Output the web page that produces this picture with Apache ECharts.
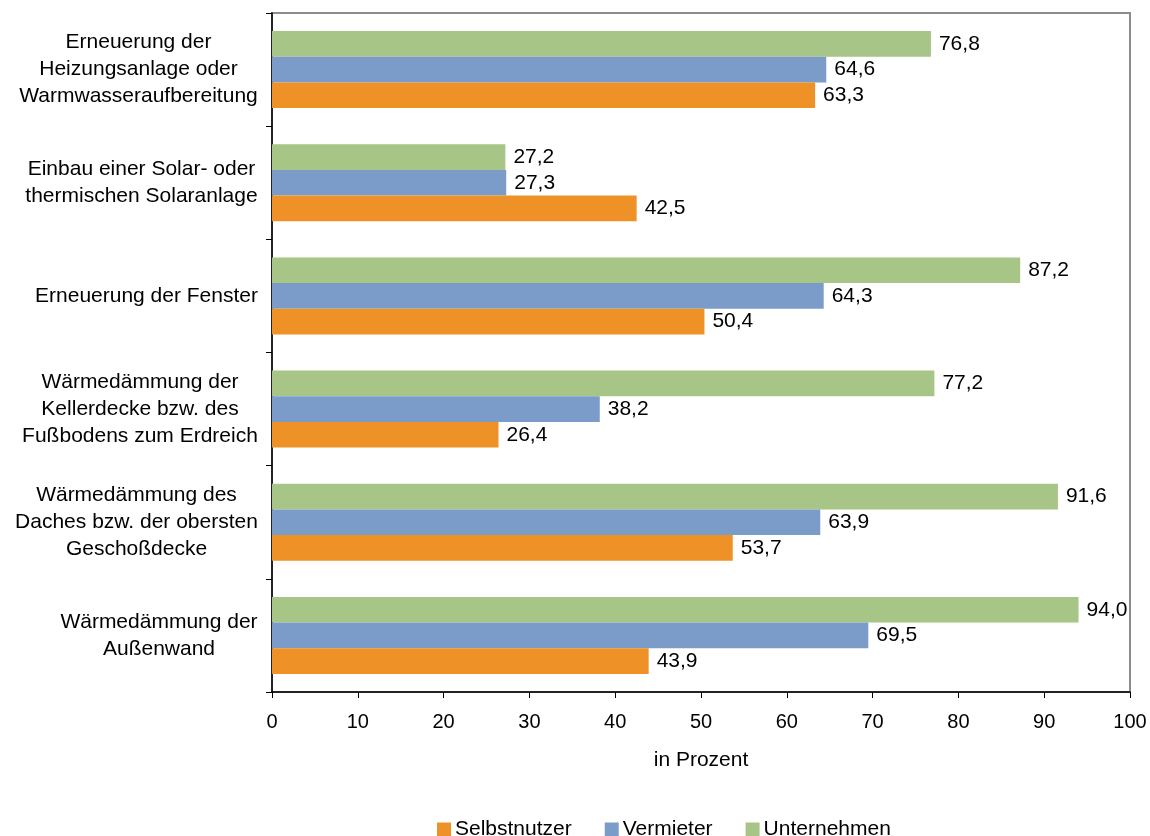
<!DOCTYPE html>
<html>
<head>
<meta charset="utf-8">
<script src="https://cdn.jsdelivr.net/npm/echarts@6/dist/echarts.min.js"></script>
<style>
  html, body { margin: 0; padding: 0; background: #fff; }
  #chart { width: 1150px; height: 836px; }
</style>
</head>
<body>
<div id="chart"></div>
<script>
// Kategorien von oben nach unten
var categories = [
  'Erneuerung der\nHeizungsanlage oder\nWarmwasseraufbereitung',
  'Einbau einer Solar- oder\nthermischen Solaranlage',
  'Erneuerung der Fenster',
  'Wärmedämmung der\nKellerdecke bzw. des\nFußbodens zum Erdreich',
  'Wärmedämmung des\nDaches bzw. der obersten\nGeschoßdecke',
  'Wärmedämmung der\nAußenwand'
];
var seriesNames = ['Selbstnutzer', 'Vermieter', 'Unternehmen'];
var selbstnutzer = [63.3, 42.5, 50.4, 26.4, 53.7, 43.9];
var vermieter = [64.6, 27.3, 64.3, 38.2, 63.9, 69.5];
var unternehmen = [76.8, 27.2, 87.2, 77.2, 91.6, 94.0];
var xTicks = [0, 10, 20, 30, 40, 50, 60, 70, 80, 90, 100];

var FONT = '"Liberation Sans", Arial, sans-serif';
var colors = { Selbstnutzer: '#EE9126', Vermieter: '#7B9BC8', Unternehmen: '#A6C586' };

// Breite jeder Beschriftung messen, damit die Zeilen zentriert und rechtsbündig als Block stehen
var ctx = document.createElement('canvas').getContext('2d');
ctx.font = '21px ' + FONT;
var rich = {};
categories.forEach(function (c, i) {
  var w = 0;
  c.split('\n').forEach(function (line) {
    w = Math.max(w, ctx.measureText(line).width);
  });
  rich['c' + i] = {
    width: Math.ceil(w),
    align: 'center',
    fontSize: 21,
    lineHeight: 27,
    fontFamily: FONT,
    color: '#000'
  };
});

function fmt(v) {
  return v.toFixed(1).replace('.', ',');
}

function makeSeries(name, data) {
  return {
    name: name,
    type: 'bar',
    data: data,
    barGap: 0,
    barCategoryGap: '32%',
    itemStyle: { color: colors[name] },
    label: {
      show: true,
      position: 'right',
      distance: 8,
      fontSize: 21,
      fontFamily: FONT,
      color: '#000',
      formatter: function (p) { return fmt(p.value); }
    }
  };
}

var myChart = echarts.init(document.getElementById('chart'), null, { renderer: 'canvas' });

var option = {
  animation: false,
  backgroundColor: '#fff',
  textStyle: { fontFamily: FONT },
  grid: {
    left: 272,
    right: 20,
    top: 13,
    bottom: 144,
    show: true,
    borderColor: '#8c8c8c',
    borderWidth: 2
  },
  legend: {
    data: seriesNames,
    left: 437,
    top: 819,
    padding: 0,
    icon: 'rect',
    itemWidth: 14,
    itemHeight: 14,
    itemGap: 33,
    textStyle: { fontSize: 21, fontFamily: FONT, color: '#000', padding: [0, 0, 0, -1] }
  },
  xAxis: {
    type: 'value',
    min: xTicks[0],
    max: xTicks[xTicks.length - 1],
    interval: xTicks[1] - xTicks[0],
    name: 'in Prozent',
    nameLocation: 'middle',
    nameGap: 58,
    nameTextStyle: { fontSize: 21, fontFamily: FONT, color: '#000' },
    axisLine: { show: true, lineStyle: { color: '#000', width: 1.5 } },
    axisTick: { show: true, length: 6, lineStyle: { color: '#000' } },
    axisLabel: { fontSize: 20, fontFamily: FONT, color: '#000', margin: 20 },
    splitLine: { show: false }
  },
  yAxis: {
    type: 'category',
    inverse: true,
    data: categories,
    axisLine: { show: true, lineStyle: { color: '#000', width: 1.5 } },
    axisTick: { show: true, length: 6, lineStyle: { color: '#000' } },
    axisLabel: {
      margin: 14,
      formatter: function (v, i) { return '{c' + i + '|' + v + '}'; },
      rich: rich
    },
    splitLine: { show: false }
  },
  series: [
    makeSeries('Unternehmen', unternehmen),
    makeSeries('Vermieter', vermieter),
    makeSeries('Selbstnutzer', selbstnutzer)
  ]
};

myChart.setOption(option);
</script>
</body>
</html>
